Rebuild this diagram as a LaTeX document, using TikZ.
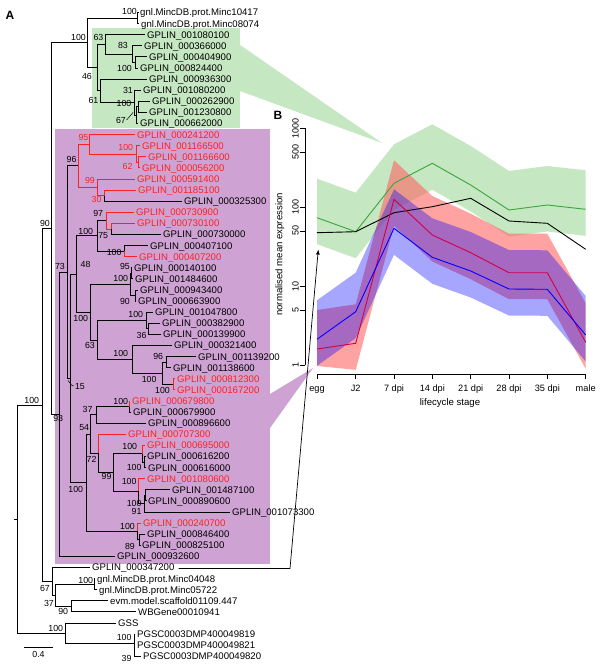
\documentclass[tikz,border=0pt]{standalone}
\usepackage{fontspec}
\setmainfont{Liberation Sans}
\usetikzlibrary{arrows.meta}
\definecolor{gbox}{RGB}{197,231,193}
\definecolor{mbox}{RGB}{206,163,211}
\definecolor{treered}{RGB}{255,32,32}
\definecolor{gline}{RGB}{60,165,60}
\definecolor{rline}{RGB}{210,0,70}
\definecolor{bline}{RGB}{0,0,255}
\definecolor{rband}{RGB}{255,100,100}
\definecolor{bband}{RGB}{0,0,255}
\newcommand\tipf{\fontsize{9.6}{11}\selectfont}
\newcommand\bsf{\fontsize{8.8}{10}\selectfont}
\newcommand\axf{\fontsize{9.2}{11}\selectfont}
\newcommand\ytf{\fontsize{9}{10}\selectfont}
\begin{document}
\begin{tikzpicture}[x=1pt,y=-1pt,
  tipn/.style={anchor=west, inner xsep=2pt, inner ysep=0pt, text height=6.9pt, text depth=0pt, font=\tipf},
  rtip/.style={tipn, text=treered},
  bsl/.style={anchor=east, inner sep=0pt, text height=6.3pt, text depth=0pt, font=\bsf},
  rbsl/.style={bsl, text=treered},
  br/.style={line width=0.85pt},
  rbr/.style={br, draw=treered},
  axl/.style={line width=0.7pt},
  xtl/.style={anchor=base, inner sep=0pt, font=\axf},
  ytl/.style={anchor=base, inner sep=0pt, font=\ytf, rotate=90},
  panel/.style={inner sep=0pt, font=\bfseries\fontsize{12}{14}\selectfont}]
\useasboundingbox (0,0) rectangle (600,669);
\fill[white] (0,0) rectangle (600,669);
% highlight boxes and wedges
\fill[gbox] (92,28) rectangle (240,128);
\fill[gbox] (240,45) -- (382,143) -- (240,91) -- cycle;
\fill[mbox] (55,129) rectangle (270,564);
\fill[mbox] (270,394) -- (313,368) -- (270,428) -- cycle;
% panel labels
\node[panel] (pA) at (10,15) {A};
\node[panel] (pB) at (278,115) {B};
% ---------------- tips
\node[tipn] (t0) at (138,12.5) {gnl.MincDB.prot.Minc10417};
\node[tipn] (t1) at (139,23.6) {gnl.MincDB.prot.Minc08074};
\node[tipn] (t2) at (145,34.7) {GPLIN\_001080100};
\node[tipn] (t3) at (142,45.8) {GPLIN\_000366000};
\node[tipn] (t4) at (147,56.9) {GPLIN\_000404900};
\node[tipn] (t5) at (138,68.0) {GPLIN\_000824400};
\node[tipn] (t6) at (147,79.1) {GPLIN\_000936300};
\node[tipn] (t7) at (141,90.2) {GPLIN\_001080200};
\node[tipn] (t8) at (150,101.3) {GPLIN\_000262900};
\node[tipn] (t9) at (147,112.4) {GPLIN\_001230800};
\node[tipn] (t10) at (138,123.5) {GPLIN\_000662000};
\node[rtip] (t11) at (135,134.6) {GPLIN\_000241200};
\node[rtip] (t12) at (140,145.7) {GPLIN\_001166500};
\node[rtip] (t13) at (146,156.8) {GPLIN\_001166600};
\node[rtip] (t14) at (140,167.9) {GPLIN\_000056200};
\node[rtip] (t15) at (135,179.0) {GPLIN\_000591400};
\node[rtip] (t16) at (136,190.1) {GPLIN\_001185100};
\node[tipn] (t17) at (182,201.2) {GPLIN\_000325300};
\node[rtip] (t18) at (134,212.3) {GPLIN\_000730900};
\node[rtip] (t19) at (135,223.4) {GPLIN\_000730100};
\node[tipn] (t20) at (161,234.5) {GPLIN\_000730000};
\node[tipn] (t21) at (148,245.6) {GPLIN\_000407100};
\node[rtip] (t22) at (137,256.7) {GPLIN\_000407200};
\node[tipn] (t23) at (132,267.8) {GPLIN\_000140100};
\node[tipn] (t24) at (133,278.9) {GPLIN\_001484600};
\node[tipn] (t25) at (138,290.0) {GPLIN\_000943400};
\node[tipn] (t26) at (136,301.1) {GPLIN\_000663900};
\node[tipn] (t27) at (153,312.2) {GPLIN\_001047800};
\node[tipn] (t28) at (160,323.3) {GPLIN\_000382900};
\node[tipn] (t29) at (161,334.4) {GPLIN\_000139900};
\node[tipn] (t30) at (172,345.5) {GPLIN\_000321400};
\node[tipn] (t31) at (196,356.6) {GPLIN\_001139200};
\node[tipn] (t32) at (171,367.7) {GPLIN\_001138600};
\node[rtip] (t33) at (175,378.8) {GPLIN\_000812300};
\node[rtip] (t34) at (175,389.9) {GPLIN\_000167200};
\node[rtip] (t35) at (130,401.0) {GPLIN\_000679800};
\node[tipn] (t36) at (131,412.1) {GPLIN\_000679900};
\node[tipn] (t37) at (146,423.2) {GPLIN\_000896600};
\node[rtip] (t38) at (126,434.3) {GPLIN\_000707300};
\node[rtip] (t39) at (145,445.4) {GPLIN\_000695000};
\node[tipn] (t40) at (145,456.5) {GPLIN\_000616200};
\node[tipn] (t41) at (146,467.6) {GPLIN\_000616000};
\node[rtip] (t42) at (145,478.7) {GPLIN\_001080600};
\node[tipn] (t43) at (170,489.8) {GPLIN\_001487100};
\node[tipn] (t44) at (146,500.9) {GPLIN\_000890600};
\node[tipn] (t45) at (230,512.0) {GPLIN\_001073300};
\node[rtip] (t46) at (141,523.1) {GPLIN\_000240700};
\node[tipn] (t47) at (145,534.2) {GPLIN\_000846400};
\node[tipn] (t48) at (140,545.3) {GPLIN\_000825100};
\node[tipn] (t49) at (115,556.4) {GPLIN\_000932600};
\node[tipn] (t50) at (90,567.5) {GPLIN\_000347200};
\node[tipn] (t51) at (95,578.6) {gnl.MincDB.prot.Minc04048};
\node[tipn] (t52) at (97,589.7) {gnl.MincDB.prot.Minc05722};
\node[tipn] (t53) at (108,600.8) {evm.model.scaffold01109.447};
\node[tipn] (t54) at (136,611.9) {WBGene00010941};
\node[tipn] (t55) at (116,623.0) {GSS};
\node[tipn] (t56) at (135,634.1) {PGSC0003DMP400049819};
\node[tipn] (t57) at (135,645.2) {PGSC0003DMP400049821};
\node[tipn] (t58) at (141,656.3) {PGSC0003DMP400049820};
% ---------------- internal nodes
\coordinate (m1) at (137.5,18.05);
\coordinate (n100a) at (135.5,62.45);
\coordinate (n83) at (132,54.1);
\coordinate (n63) at (105,44.4);
\coordinate (n100b) at (138,106.85);
\coordinate (n67) at (136,115.2);
\coordinate (n31) at (134.5,102.7);
\coordinate (n61) at (100,90.9);
\coordinate (G) at (97,67.65);
\coordinate (A) at (87,42.85);
\coordinate (n62) at (138,162.35);
\coordinate (n100c) at (136,154.0);
\coordinate (n95) at (89,144.3);
\coordinate (n30) at (104,195.65);
\coordinate (n99) at (97,187.3);
\coordinate (n96r) at (78,165.8);
\coordinate (n75) at (111,228.95);
\coordinate (n97) at (106,220.6);
\coordinate (n100e) at (124,251.15);
\coordinate (n100d) at (97,235.9);
\coordinate (n95b) at (131,273.35);
\coordinate (n90) at (135,295.55);
\coordinate (n100f) at (130,284.45);
\coordinate (n36) at (148.5,328.85);
\coordinate (ng47) at (146,320.5);
\coordinate (n96b) at (166,362.15);
\coordinate (n100r) at (173,384.35);
\coordinate (V) at (162,373.25);
\coordinate (W) at (132,359.4);
\coordinate (Q) at (97,339.95);
\coordinate (Z1) at (90,312.2);
\coordinate (n48) at (76.5,274.05);
\coordinate (n100h) at (129,406.55);
\coordinate (n37b) at (96,414.9);
\coordinate (n100i) at (144.5,462.05);
\coordinate (n100j) at (142.5,453.7);
\coordinate (n100l) at (145.5,495.35);
\coordinate (n91) at (144,503.7);
\coordinate (n100k) at (138,491.2);
\coordinate (n99b) at (113,472.45);
\coordinate (n72) at (98,453.4);
\coordinate (n54) at (90,434.15);
\coordinate (n89) at (139.5,539.75);
\coordinate (n100m) at (137,531.4);
\coordinate (N86) at (86,482.8);
\coordinate (X2) at (70,378.4);
\coordinate (n73) at (67,272.1);
\coordinate (M93) at (59.5,414.25);
\coordinate (N90) at (51,228.55);
\coordinate (Minc2) at (94,584.15);
\coordinate (n90b) at (71,606.35);
\coordinate (n37) at (55,595.25);
\coordinate (n67b) at (52,581.4);
\coordinate (N100) at (42,405);
\coordinate (P) at (134,643);
\coordinate (GSSn) at (65,633);
\coordinate (R) at (17,519);
\coordinate (rootend) at (14,519);
% ---------------- black branches
\foreach \p/\c in {m1/t0,m1/t1,n100a/t4,n100a/t5,n83/t3,n83/n100a,n63/t2,n63/n83,
  n100b/t8,n100b/t9,n67/n100b,n67/t10,n31/t7,n31/n67,n61/t6,n61/n31,G/n63,G/n61,
  A/m1,A/G,N90/A,N90/M93,n30/t17,n75/t20,n100e/t21,n100d/n97,n100d/n100e,
  n95b/t23,n95b/t24,n90/t25,n90/t26,n100f/n95b,n100f/n90,n36/t28,n36/t29,
  ng47/t27,ng47/n36,n96b/t31,n96b/t32,V/n96b,V/n100r,W/t30,W/V,Q/ng47,Q/W,
  Z1/n100f,Z1/Q,n48/n100d,n48/Z1,n100h/t36,n37b/n100h,n37b/t37,n100i/t40,
  n100i/t41,n100j/n100i,n100l/t43,n100l/t44,n91/n100l,n91/t45,n100k/n91,
  n99b/n100j,n99b/n100k,n72/n99b,n54/n37b,n54/n72,n89/t47,n89/t48,n100m/n89,
  N86/n54,N86/n100m,X2/n48,X2/N86,n73/n96r,n73/X2,M93/n73,M93/t49,
  Minc2/t51,Minc2/t52,n90b/t53,n90b/t54,n37/Minc2,n37/n90b,n67b/t50,n67b/n37,
  N100/N90,N100/n67b,P/t56,P/t57,P/t58,GSSn/t55,GSSn/P,R/N100,R/GSSn}
  \draw[br] (\p) |- (\c);
% ---------------- red branches
\foreach \p/\c in {n62/t13,n62/t14,n100c/t12,n100c/n62,n95/t11,n95/n100c,
  n30/t16,n99/t15,n99/n30,n96r/n95,n96r/n99,n75/t19,n97/t18,n97/n75,
  n100e/t22,n100r/t33,n100r/t34,n100h/t35,n100j/t39,n100k/t42,n72/t38,n100m/t46}
  \draw[rbr] (\p) |- (\c);
\draw[br] (rootend) -- (R);
% ---------------- support values
\node[bsl] (b1) at (137,11.5) {100};
\node[bsl] (b2) at (86,37.3) {100};
\node[bsl] (b3) at (103.5,37.5) {63};
\node[bsl] (b4) at (128,45.5) {83};
\node[bsl] (b5) at (132,68) {100};
\node[bsl] (b6) at (92,76) {46};
\node[bsl] (b7) at (133,90) {31};
\node[bsl] (b8) at (98.5,100) {61};
\node[bsl] (b9) at (131.5,103) {100};
\node[bsl] (b10) at (126,120) {67};
\node[rbsl] (b11) at (88.5,137.3) {95};
\node[rbsl] (b12) at (133.3,147.7) {100};
\node[rbsl] (b13) at (132.7,166.7) {62};
\node[bsl] (b14) at (76.7,159.3) {96};
\node[rbsl] (b15) at (95,180) {99};
\node[rbsl] (b16) at (101.7,199.3) {30};
\node[bsl] (b17) at (103.3,213.3) {97};
\node[bsl] (b18) at (93.3,231.7) {100};
\node[bsl] (b19) at (108.3,235) {75};
\node[bsl] (b20) at (121.7,252.7) {100};
\node[bsl] (b21) at (65,266.7) {73};
\node[bsl] (b22) at (90.7,264) {48};
\node[bsl] (b23) at (130,266.7) {95};
\node[bsl] (b24) at (128.3,278.3) {100};
\node[bsl] (b25) at (130,301.7) {90};
\node[bsl] (b26) at (143.3,314) {100};
\node[bsl] (b27) at (146.7,335) {36};
\node[bsl] (b28) at (88.3,318.3) {100};
\node[bsl] (b29) at (95,345) {63};
\node[bsl] (b30) at (128.3,353.3) {100};
\node[bsl] (b31) at (163.3,356.7) {96};
\node[bsl] (b32) at (156.7,379.3) {100};
\node[bsl] (b33) at (170,390) {100};
\node[bsl] (b34) at (85,386) {15};
\node[bsl] (b35) at (39.3,400) {100};
\node[bsl] (b36) at (63.3,418.3) {93};
\node[bsl] (b37) at (128.3,401) {100};
\node[bsl] (b38) at (92.7,409.3) {37};
\node[bsl] (b39) at (89.3,427.3) {54};
\node[bsl] (b40) at (137.3,446.7) {100};
\node[bsl] (b41) at (96.7,459.3) {72};
\node[bsl] (b42) at (141.7,467.7) {100};
\node[bsl] (b43) at (111.7,476.7) {99};
\node[bsl] (b44) at (83.3,489.3) {100};
\node[bsl] (b45) at (136.7,481.7) {100};
\node[bsl] (b46) at (141.7,503.3) {100};
\node[bsl] (b47) at (141.7,511) {91};
\node[bsl] (b48) at (135,526) {100};
\node[bsl] (b49) at (135,546) {89};
\node[bsl] (b50) at (50,588.3) {67};
\node[bsl] (b51) at (93.3,580) {100};
\node[bsl] (b52) at (54,603.3) {37};
\node[bsl] (b53) at (68.3,611.7) {90};
\node[bsl] (b54) at (63.3,628.3) {100};
\node[bsl] (b55) at (131.7,637.3) {100};
\node[bsl] (b56) at (131.7,658.3) {39};
\node[bsl] (b57) at (50,223.3) {90};
\coordinate (ld1) at (133,112.5);
\draw[line width=0.5pt] ([xshift=0.6pt]b10.east) -- (ld1);
\coordinate (ld2) at (68,380.5);
\draw[line width=0.5pt] (ld2) -- ++(3.5,4.5) -- ([xshift=-1.2pt]b34.west);
% scale bar
\coordinate (sb1) at (24,647.7);
\coordinate (sb2) at (53.3,647.7);
\draw[br] (sb1) -- (sb2);
\node[bsl, anchor=center] (sbl) at (38.5,654) {0.4};
% ---------------- plot B
% bands
\fill[gbox] (317,178.7) -- (355.7,192.7) -- (394,144.3) -- (432.3,124.3) -- (470.7,146) -- (509,171) -- (547.3,166) -- (585.7,170.3)
  -- (585.7,235.8) -- (547.3,231.5) -- (509,236.5) -- (470.7,211.5) -- (432.3,189.8) -- (394,209.8) -- (355.7,258.2) -- (317,244.2) -- cycle;
\fill[rband, fill opacity=0.6] (317,310) -- (355.7,304.3) -- (394,160.3) -- (432.3,196) -- (470.7,213.7) -- (509,233.7) -- (547.3,233.7) -- (585.7,303.3)
  -- (585.7,368.8) -- (547.3,299.2) -- (509,299.2) -- (470.7,279.2) -- (432.3,261.5) -- (394,225.8) -- (355.7,369.8) -- (317,366) -- cycle;
\fill[bband, fill opacity=0.35] (317,300.3) -- (355.7,272.7) -- (394,189.3) -- (432.3,218.3) -- (470.7,232) -- (509,250) -- (547.3,250.3) -- (585.7,296)
  -- (585.7,361.5) -- (547.3,315.8) -- (509,315.5) -- (470.7,297.5) -- (432.3,283.8) -- (394,254.8) -- (355.7,338.2) -- (317,365.8) -- cycle;
% mean lines
\draw[gline, line width=0.9pt] (317,217.7) -- (355.7,231.7) -- (394,183.3) -- (432.3,163.3) -- (470.7,185) -- (509,210) -- (547.3,205) -- (585.7,209.3);
\draw[black, line width=0.9pt] (317,232.7) -- (355.7,231.7) -- (394,212.7) -- (432.3,206.7) -- (470.7,198.3) -- (509,221) -- (547.3,223.3) -- (585.7,249.3);
\draw[rline, line width=0.9pt] (317,349) -- (355.7,343.3) -- (394,199.3) -- (432.3,235) -- (470.7,252.7) -- (509,272.7) -- (547.3,272.7) -- (585.7,342.3);
\draw[bline, line width=0.9pt] (317,339.3) -- (355.7,311.7) -- (394,228.3) -- (432.3,257.3) -- (470.7,271) -- (509,289) -- (547.3,289.3) -- (585.7,335);
% axes
\draw[axl] (305,128.3) -- (305,365);
\foreach \yy/\lab in {365/1,309.85/5,286.1/10,230.95/50,207.2/100,152.05/500,128.3/1000}{
  \draw[axl] (300,\yy) -- (305,\yy);
  \node[ytl] at (298.5,\yy) {\lab};
}
\draw[axl] (317,374.3) -- (585.7,374.3);
\foreach \xx/\lab in {317/egg,355.7/J2,394/7 dpi,432.3/14 dpi,470.7/21 dpi,509/28 dpi,547.3/35 dpi,585.7/male}{
  \draw[axl] (\xx,374.3) -- (\xx,379);
  \node[xtl] at (\xx,391) {\lab};
}
\node[xtl, font=\fontsize{9.6}{11}\selectfont] (xlab) at (450,405.7) {lifecycle stage};
\node[anchor=base, inner sep=0pt, rotate=90, font=\fontsize{9.6}{11}\selectfont] (ylab) at (282.3,254.5) {normalised mean expression};
% connector from GPLIN_000347200 to the plot
\coordinate (bend) at (290,568.5);
\coordinate (arrowtip) at (318.3,249.5);
\draw[line width=0.7pt, -{Latex[length=5pt,width=4pt]}] ([xshift=2pt]t50.east |- bend) -- (bend) -- (arrowtip);
\end{tikzpicture}
\end{document}
